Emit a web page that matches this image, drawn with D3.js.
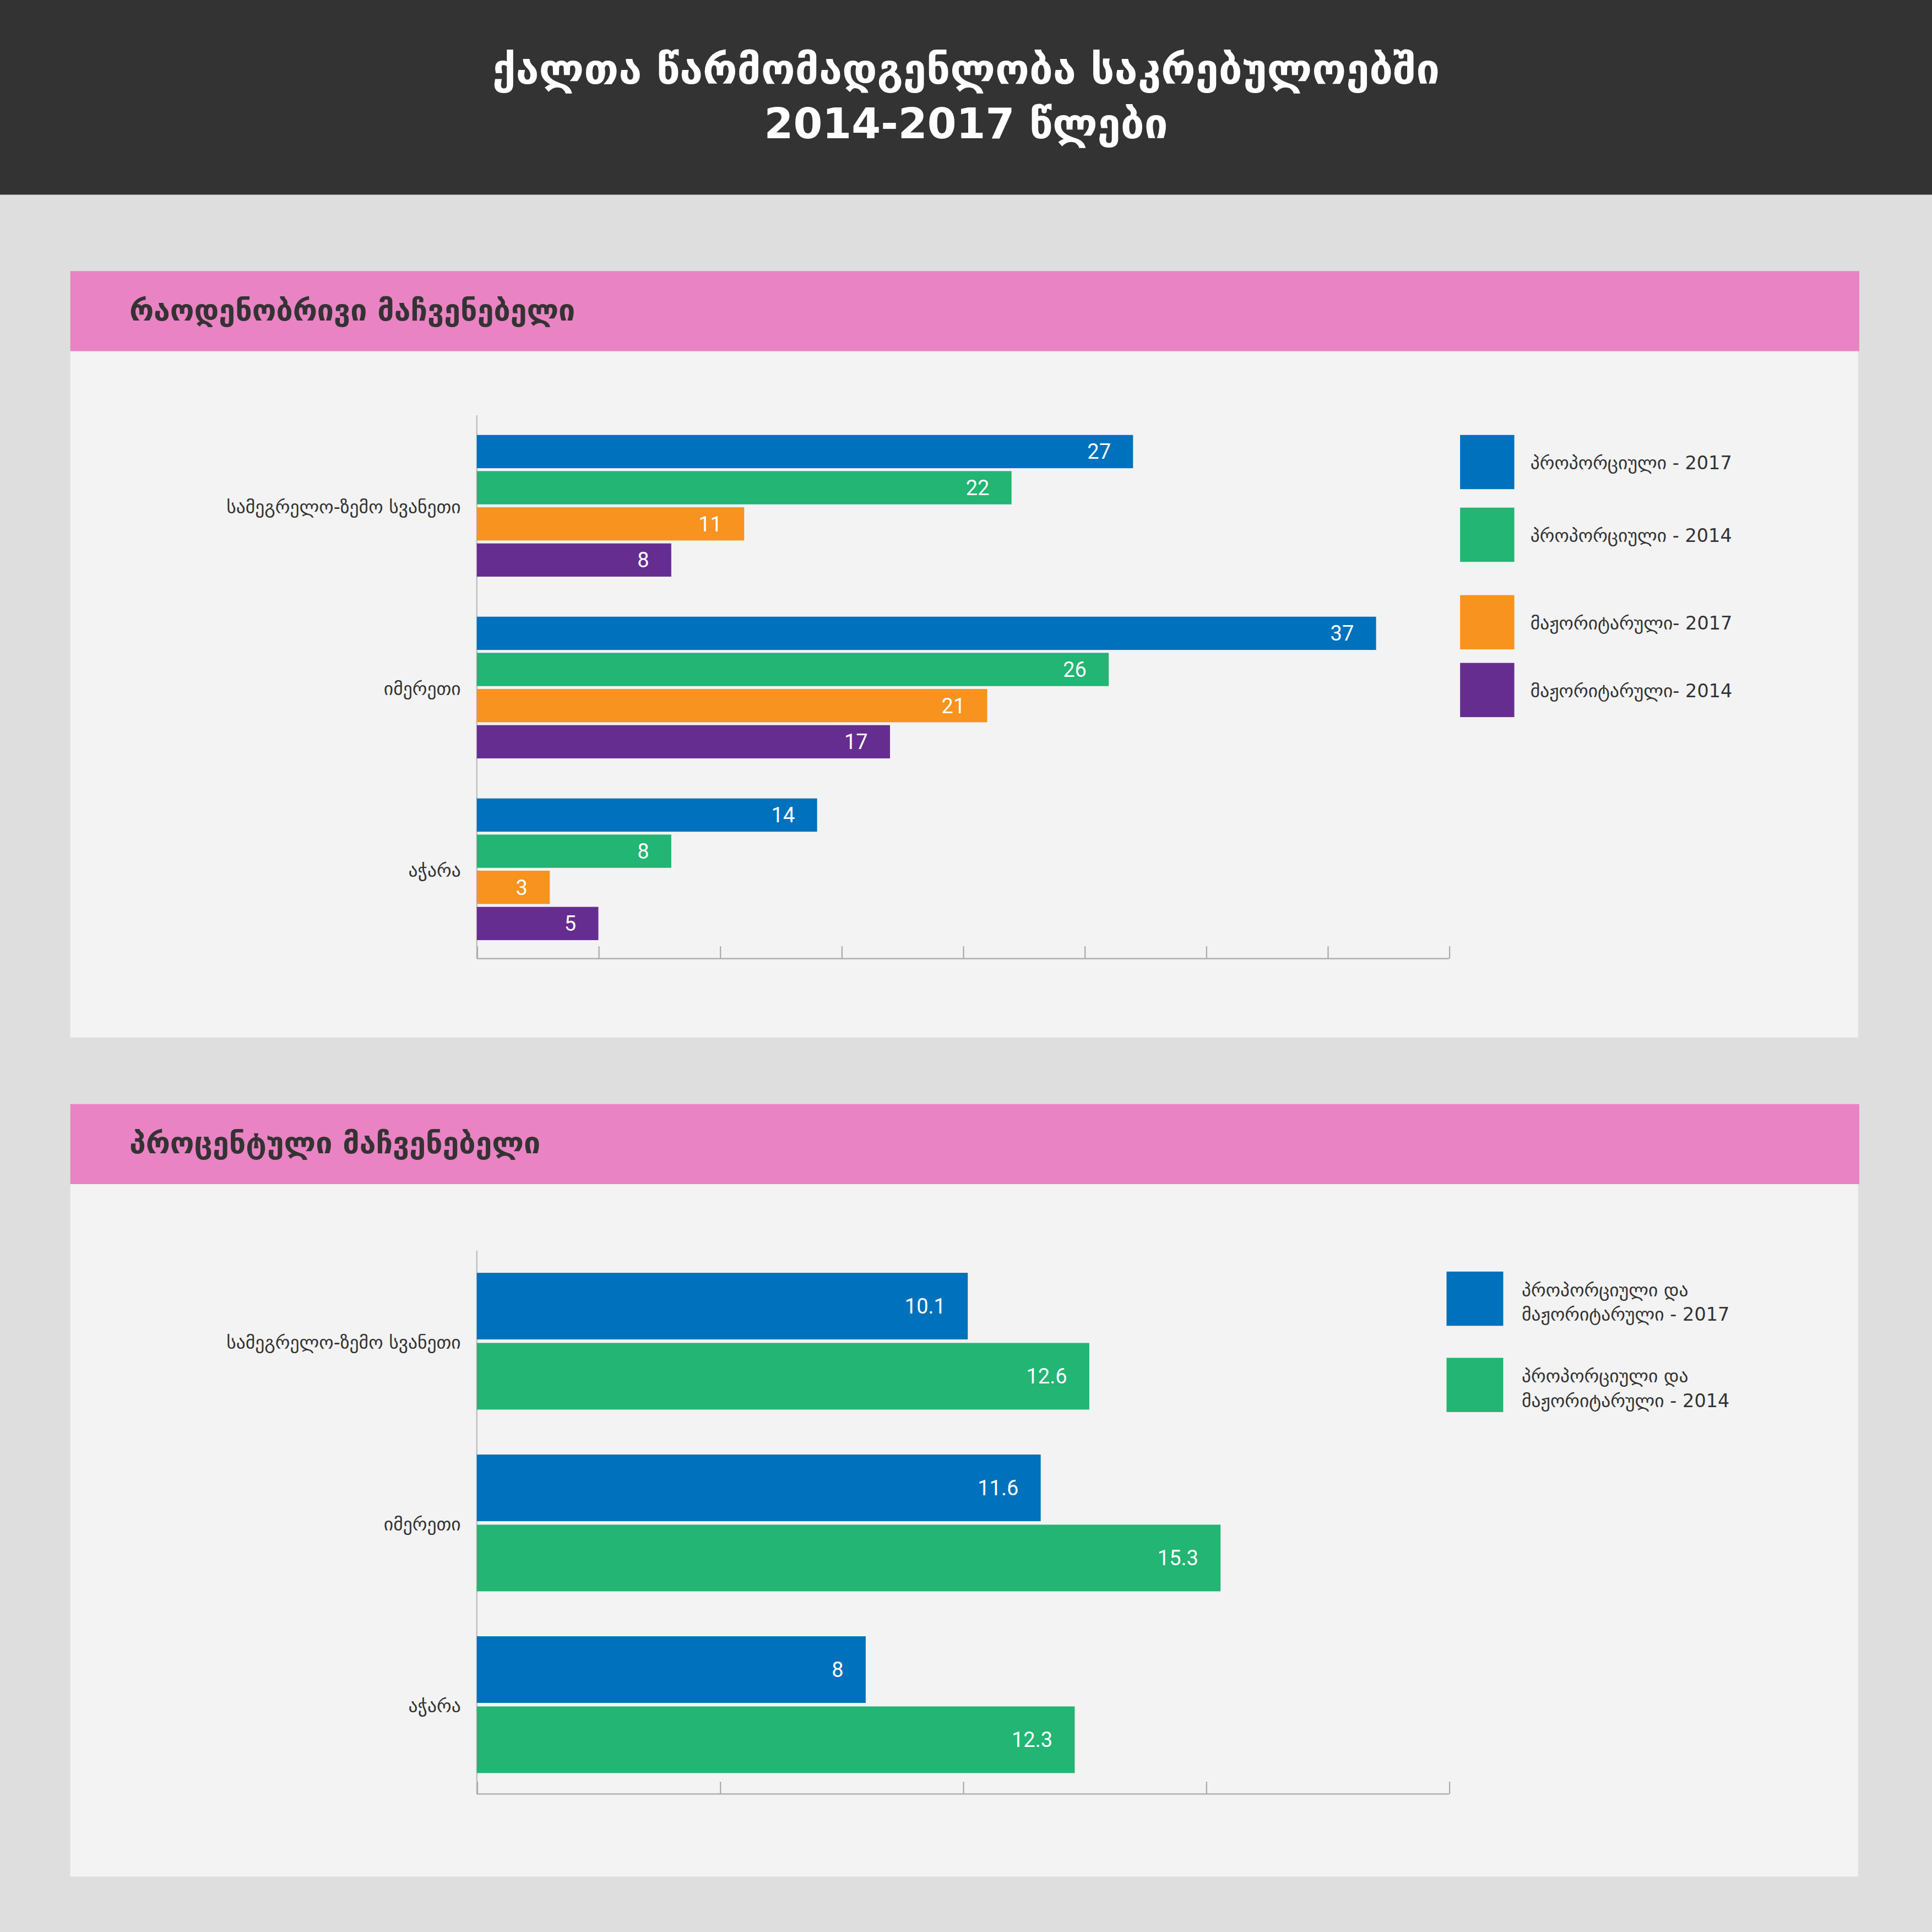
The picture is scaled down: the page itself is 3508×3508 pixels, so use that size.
<!DOCTYPE html>
<html><head><meta charset="utf-8">
<script src="https://cdn.jsdelivr.net/npm/d3@7"></script>
<style>html,body{margin:0;padding:0;background:#dedede}</style>
</head><body>
<script>
const title1 = "ქალთა წარმომადგენლობა საკრებულოებში";
const title2 = "2014-2017 წლები";
const heading1 = "რაოდენობრივი მაჩვენებელი";
const heading2 = "პროცენტული მაჩვენებელი";
const categories = ["სამეგრელო-ზემო სვანეთი", "იმერეთი", "აჭარა"];
const series1 = ["პროპორციული - 2017", "პროპორციული - 2014", "მაჟორიტარული- 2017", "მაჟორიტარული- 2014"];
const values1 = [[27, 22, 11, 8], [37, 26, 21, 17], [14, 8, 3, 5]];
const series2 = [["პროპორციული და", "მაჟორიტარული - 2017"], ["პროპორციული და", "მაჟორიტარული - 2014"]];
const values2 = [[10.1, 12.6], [11.6, 15.3], [8, 12.3]];
const colors1 = ["#0071bc", "#22b573", "#f7931e", "#662d91"];
const colors2 = ["#0071bc", "#22b573"];
const ticks1 = [0, 5, 10, 15, 20, 25, 30, 35, 40];
const ticks2 = [0, 5, 10, 15, 20];

const font = "'DejaVu Sans', sans-serif";
const numFont = "Roboto, 'DejaVu Sans Condensed', sans-serif";
const svg = d3.select("body").append("svg")
  .attr("width", 3508).attr("height", 3508).attr("viewBox", "0 0 1568 1568");
svg.append("rect").attr("width", 1568).attr("height", 1568).attr("fill", "#dedede");
svg.append("rect").attr("width", 1568).attr("height", 158).attr("fill", "#333333");
svg.append("text").attr("x", 784).attr("y", 68).attr("text-anchor", "middle").attr("fill", "#fff")
  .attr("font-family", font).attr("font-weight", "bold").attr("font-size", 34).text(title1);
svg.append("text").attr("x", 784).attr("y", 112).attr("text-anchor", "middle").attr("fill", "#fff")
  .attr("font-family", font).attr("font-weight", "bold").attr("font-size", 34).text(title2);

function panel(y0, y1, heading) {
  svg.append("rect").attr("x", 57).attr("y", y0).attr("width", 1451).attr("height", y1 - y0).attr("fill", "#f3f3f3");
  svg.append("rect").attr("x", 57).attr("y", y0).attr("width", 1452).attr("height", 65).attr("fill", "#ea83c3");
  svg.append("text").attr("x", 105).attr("y", y0 + 40).attr("fill", "#333")
    .attr("font-family", font).attr("font-weight", "bold").attr("font-size", 24).text(heading);
}
panel(220, 842, heading1);
panel(896, 1523, heading2);

function chart(cfg) {
  const g = svg.append("g");
  const x = d3.scaleLinear().domain(cfg.domain).range([387, 1176]);
  const y = d3.scaleBand().domain(cfg.cats).range(cfg.yr);
  const inner = d3.scaleBand().domain(d3.range(cfg.n)).range([0, cfg.groupH]).paddingInner(cfg.pad);
  // axes
  g.append("line").attr("x1", 387).attr("x2", 387).attr("y1", cfg.axisTop).attr("y2", cfg.axisY).attr("stroke", "#bbb");
  const ax = g.append("g").attr("transform", `translate(0,${cfg.axisY})`)
    .call(d3.axisTop(x).tickValues(cfg.ticks).tickSize(10).tickFormat(""));
  ax.selectAll("line,path").attr("stroke", "#aaa");
  ax.select(".domain").attr("d", "M387,0H1176");
  cfg.cats.forEach((c, i) => {
    const gy = y(c) + cfg.off;
    g.append("text").attr("x", 374).attr("y", gy + cfg.groupH / 2 + 6).attr("text-anchor", "end")
      .attr("font-family", font).attr("font-size", 15).attr("fill", "#333").text(c);
    cfg.vals[i].forEach((v, j) => {
      g.append("rect").attr("x", x(0)).attr("y", gy + inner(j)).attr("width", x(v) - x(0))
        .attr("height", inner.bandwidth()).attr("fill", cfg.colors[j]);
      g.append("text").attr("x", x(v) - 18).attr("y", gy + inner(j) + inner.bandwidth() / 2 + 6)
        .attr("text-anchor", "end").attr("fill", "#fff").attr("font-family", numFont)
        .attr("font-size", 17).text(v);
    });
  });
}
chart({domain: [0, 40], cats: categories, yr: [353, 795.5], off: 0, groupH: 115, n: 4, pad: 0.08,
  vals: values1, colors: colors1, ticks: ticks1, axisTop: 337, axisY: 778});
chart({domain: [0, 20], cats: categories, yr: [1033, 1475.5], off: 0, groupH: 111, n: 2, pad: 0.05,
  vals: values2, colors: colors2, ticks: ticks2, axisTop: 1015, axisY: 1456});

// legends
const leg1Y = [353, 412, 483, 538];
series1.forEach((s, i) => {
  svg.append("rect").attr("x", 1185).attr("y", leg1Y[i]).attr("width", 44).attr("height", 44).attr("fill", colors1[i]);
  svg.append("text").attr("x", 1242).attr("y", leg1Y[i] + 28).attr("font-family", font).attr("font-size", 15)
    .attr("fill", "#333").text(s);
});
const leg2Y = [1032, 1102];
series2.forEach((s, i) => {
  svg.append("rect").attr("x", 1174).attr("y", leg2Y[i]).attr("width", 46).attr("height", 44).attr("fill", colors2[i]);
  s.forEach((t, k) => svg.append("text").attr("x", 1235).attr("y", leg2Y[i] + 20 + k * 20)
    .attr("font-family", font).attr("font-size", 15).attr("fill", "#333").text(t));
});
</script>
</body></html>
